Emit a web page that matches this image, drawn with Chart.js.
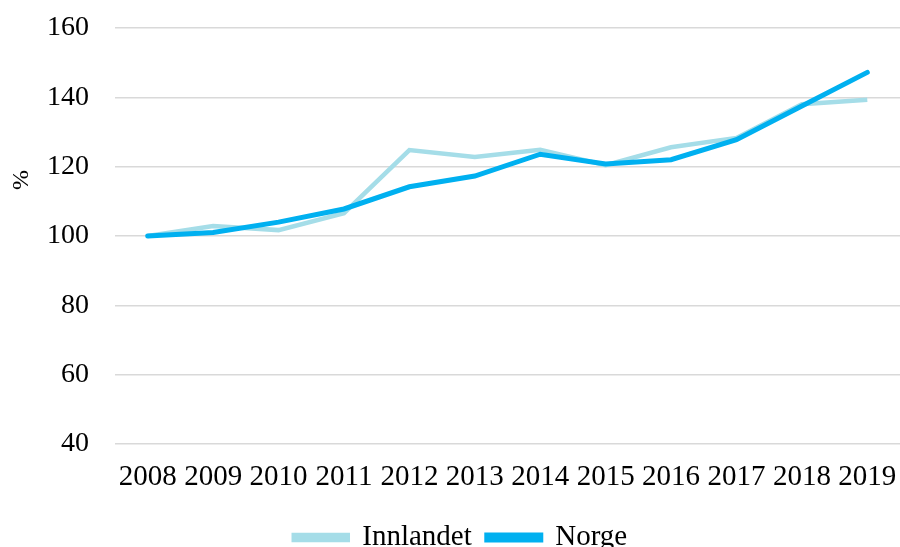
<!DOCTYPE html>
<html>
<head>
  <meta charset="UTF-8">
  <title>Innlandet og Norge</title>
  <style>
    body {
      margin: 0;
      background-color: #fff;
      overflow: hidden;
    }

    .grafica-container {
      position: relative;
      width: 900px;
      height: 547px;
    }
  </style>
</head>
<body>
  <div class="grafica-container">
    <canvas id="grafica"></canvas>
  </div>

  <script src="https://cdn.jsdelivr.net/npm/chart.js"></script>
  <script>
    // år og indeks (2008 = 100)
    var aar = ['2008', '2009', '2010', '2011', '2012', '2013', '2014', '2015', '2016', '2017', '2018', '2019'];
    var innlandet = [100, 102.9, 101.7, 106.6, 124.8, 122.8, 124.9, 120.4, 125.6, 128.3, 138.0, 139.3];
    var norge = [100, 101.0, 104.0, 107.8, 114.2, 117.3, 123.6, 120.8, 122.0, 127.8, 137.5, 147.2];
    var yTicks = [40, 60, 80, 100, 120, 140, 160];

    var serif = "'Liberation Serif', 'Times New Roman', serif";

    // aksetittel "%" står litt over midten, så den tegnes selv
    var prosentTittel = {
      id: 'prosentTittel',
      afterDraw: function (chart) {
        var c = chart.ctx;
        c.save();
        c.translate(22, chart.chartArea.top + 152);
        c.rotate(-Math.PI / 2);
        c.fillStyle = '#000';
        c.font = '24px ' + serif;
        c.textAlign = 'center';
        c.textBaseline = 'middle';
        c.fillText('%', 0, 0);
        c.restore();
      }
    };

    var ctx = document.getElementById('grafica').getContext('2d');

    var myChart = new Chart(ctx, {
      type: 'line',
      data: {
        labels: aar,
        datasets: [{
          label: 'Innlandet',
          data: innlandet,
          borderColor: '#a5dde8',
          backgroundColor: '#a5dde8',
          borderWidth: 4.5,
          pointRadius: 0,
          tension: 0,
          order: 1
        }, {
          label: 'Norge',
          data: norge,
          borderColor: '#00b0f0',
          backgroundColor: '#00b0f0',
          borderWidth: 5,
          pointRadius: 0,
          tension: 0,
          borderCapStyle: 'round',
          order: 0
        }]
      },
      options: {
        responsive: true,
        maintainAspectRatio: false,
        animation: false,
        layout: {
          padding: { top: 28, left: 21, right: 0, bottom: -15 }
        },
        plugins: {
          legend: {
            position: 'bottom',
            labels: {
              color: '#000',
              font: { family: serif, size: 29 },
              boxWidth: 54,
              boxHeight: 5,
              padding: 15,
              sort: function (a, b) { return a.datasetIndex - b.datasetIndex; }
            }
          },
          tooltip: { enabled: false }
        },
        scales: {
          x: {
            offset: true,
            grid: { display: false, drawTicks: false },
            border: { display: false },
            ticks: {
              color: '#000',
              font: { family: serif, size: 29 },
              padding: 16,
              maxRotation: 0,
              autoSkip: false
            },
            afterFit: function (scale) {
              scale.height = 64;
              scale.paddingLeft = 0;
              scale.paddingRight = 0;
            }
          },
          y: {
            min: 40,
            max: 160,
            afterBuildTicks: function (axis) {
              axis.ticks = yTicks.map(function (v) { return { value: v }; });
            },
            grid: {
              color: '#d9d9d9',
              lineWidth: 1.5,
              drawTicks: false
            },
            border: { display: false },
            ticks: {
              color: '#000',
              font: { family: serif, size: 28 },
              padding: 26
            },
            afterFit: function (scale) {
              scale.paddingTop = 0;
              scale.paddingBottom = 0;
            }
          }
        }
      },
      plugins: [prosentTittel]
    });
  </script>
</body>
</html>
